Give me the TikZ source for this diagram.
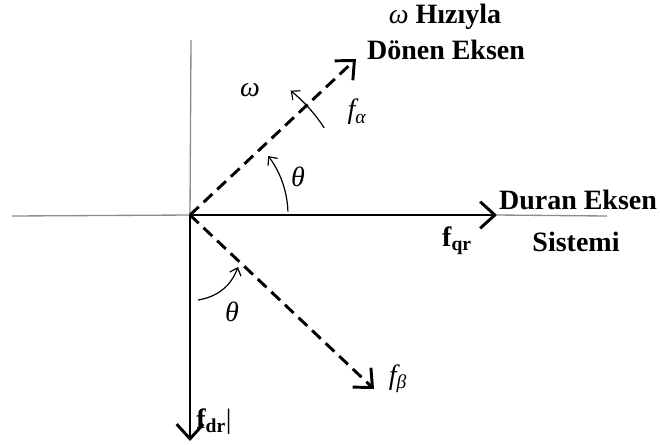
\documentclass[tikz,border=0pt]{standalone}
\usepackage{fontspec}
\setmainfont{Liberation Serif}
\usetikzlibrary{arrows.meta,positioning}

\begin{document}
\begin{tikzpicture}[x=0.75pt,y=-0.75pt,>={Straight Barb[length=11pt,width=20pt]},
font=\fontsize{21}{24}\selectfont,
vec/.style={line width=2.2pt,->},
dvec/.style={line width=2.2pt,->,dash pattern=on 9pt off 5pt},
aux/.style={black!45,line width=1pt},
ang/.style={line width=0.9pt,-{Straight Barb[length=5pt,width=9pt]}},
lbl/.style={inner sep=0pt}]
\useasboundingbox (0,0) rectangle (660,444);
% axes
\coordinate (O) at (190,215);
\coordinate (xa) at (12,216);
\coordinate (ya) at (191,40);
\coordinate (q) at (497,215);
\coordinate (xe) at (607,216);
\coordinate (d) at (190,441);
\coordinate (al) at (356,59);
\coordinate (be) at (374,389);
\draw[aux](xa)--(O)(ya)--(O)(q)--(xe);
\draw[vec](O)--(q);
\draw[vec](O)--(d);
\draw[dvec](O)--(al);
\draw[dvec](O)--(be);
% angles
\draw[ang](O)++(-2:98)arc[start angle=-2,end angle=-37,radius=98];
\draw[ang](O)++(-33:160)arc[start angle=-33,end angle=-51,radius=160];
\coordinate (t1) at (198,300);
\coordinate (t2) at (238,267);
\draw[ang](t1)to[bend right=30](t2);
% labels
\node[lbl](w) at (250,90){\itshape ω};
\node[lbl](th1) at (298,177){\itshape θ};
\node[lbl](fa) at (357,112){\itshape f\textsubscript{α}};
\node[lbl](th2) at (232,312){\itshape θ};
\node[lbl](fb) at (398,379){\itshape f\textsubscript{β}};
\node[lbl](fq) at (457,241){\textbf{f\textsubscript{qr}}};
\node[lbl](fd) at (214,422){\textbf{f\textsubscript{dr}}|};
\node[lbl](h1) at (445,17){\itshape ω \upshape\bfseries Hızıyla};
\node[lbl](h2) at (446,50){\bfseries Dönen Eksen};
\node[lbl](s1) at (578,200){\bfseries Duran Eksen};
\node[lbl](s2) at (576,242){\bfseries Sistemi};
\end{tikzpicture}
\end{document}
